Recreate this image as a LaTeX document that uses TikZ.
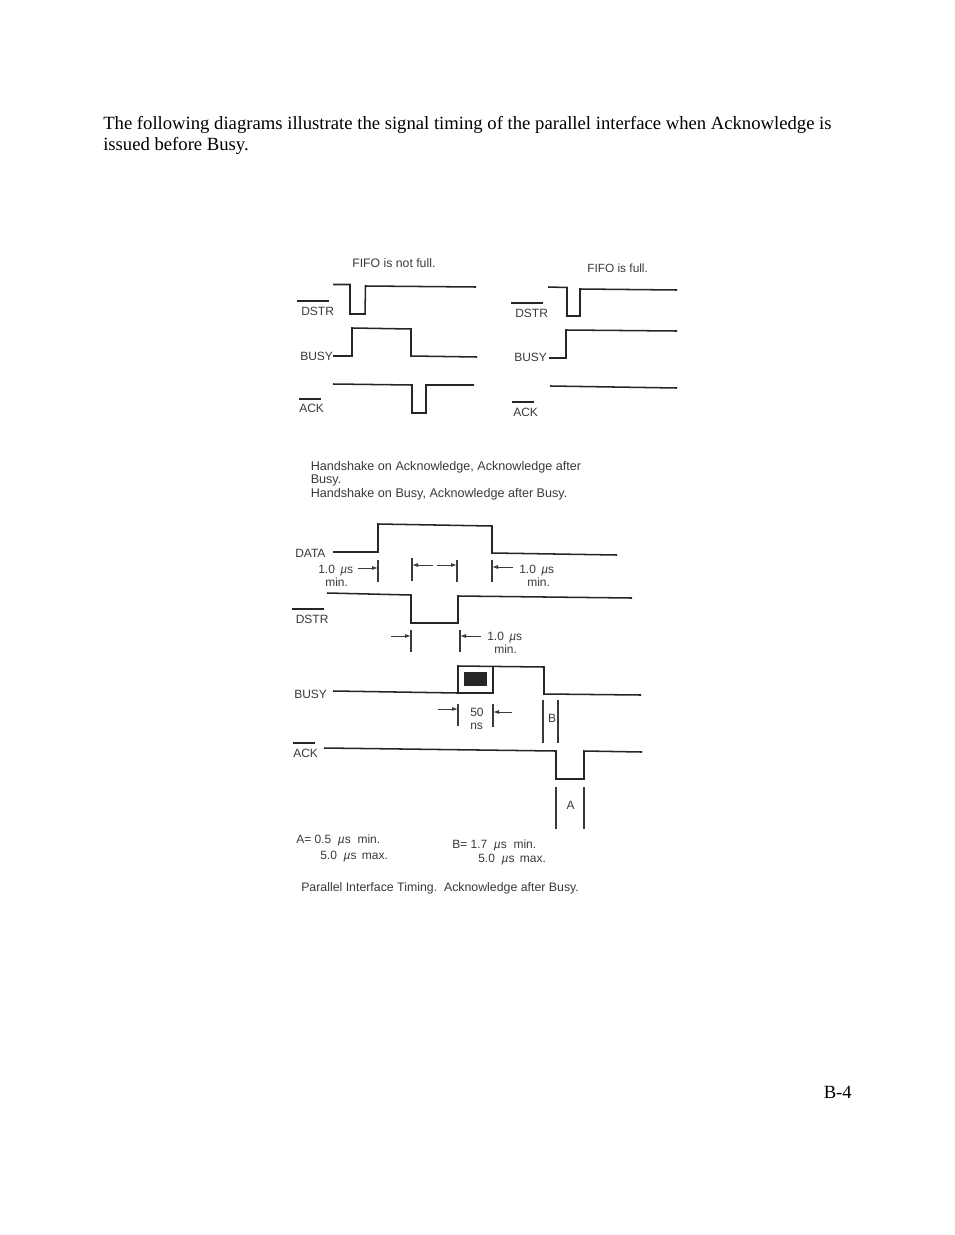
\documentclass[tikz,border=0pt]{standalone}
\usepackage{fontspec}
\setmainfont{Liberation Serif}
\newfontfamily\labelfont{Liberation Sans}
\usetikzlibrary{arrows.meta}
\definecolor{ink}{HTML}{262626}
\definecolor{scan}{HTML}{3A3A3A}
\newcommand{\us}{{\itshape µ}s}
\tikzset{
  wave/.style={draw=ink,line width=1.15pt,line join=miter},
  tick/.style={draw=scan,line width=0.8pt},
  dim/.style={draw=scan,line width=0.7pt,-{Latex[length=4.5pt,width=3pt]}},
  bar/.style={draw=ink,line width=0.8pt},
  sig/.style={text=scan,inner sep=0pt,anchor=west,font=\labelfont\fontsize{9}{10}\selectfont},
  lab/.style={sig,anchor=center},
  wide/.style={sig,font=\labelfont\fontsize{9.45}{10}\selectfont},
  page/.style={text=black,inner sep=0pt,anchor=base west,font=\fontsize{14}{16}\selectfont},
}
\begin{document}
\begin{tikzpicture}[x=0.75pt,y=-0.75pt]
\useasboundingbox[fill=white] (0,0) rectangle (954,1235);
% page text
\node[page] at (103,129) {The following diagrams illustrate the signal timing of the parallel interface when Acknowledge is};
\node[page] at (103,150) {issued before Busy.};
\node[page] at (823.5,1098) {B-4};
% top-left
\node[sig,font=\labelfont\fontsize{9.2}{10}\selectfont] at (352,263) {FIFO is not full.};
\draw[wave] (333,284.5) -- (350,284.5) -- (350,314) -- (365,314) -- (365.5,286) -- (476,287);
\draw[wave] (333,356) -- (352,356) -- (352,328) -- (411,329) -- (411,356) -- (477,357);
\draw[wave] (333,384) -- (412,385) -- (412,413) -- (426,413) -- (426,385) -- (474,385);
\draw[bar] (297,301) -- (329,301);
\draw[bar] (299,399) -- (321,399);
\node[sig] at (301,311.5) {DSTR};
\node[sig] at (300,356.5) {BUSY};
\node[sig] at (299,408.5) {ACK};
% top-right
\node[sig,font=\labelfont\fontsize{8.9}{10}\selectfont] at (587,268) {FIFO is full.};
\draw[wave] (548,287) -- (567,287.5) -- (567,316) -- (580,316) -- (580,289) -- (677,290);
\draw[wave] (549,358) -- (566,358) -- (566,330) -- (677,331);
\draw[wave] (550,386) -- (677,388);
\draw[bar] (511,303) -- (543,303);
\draw[bar] (512,402) -- (534,402);
\node[sig] at (515,313) {DSTR};
\node[sig] at (514,357.5) {BUSY};
\node[sig] at (513,412.5) {ACK};
% handshake text
\node[wide] at (310.5,467) {Handshake on Acknowledge, Acknowledge after};
\node[wide] at (310.5,480) {Busy.};
\node[wide] at (310.5,494.5) {Handshake on Busy, Acknowledge after Busy.};
% DATA
\draw[wave] (333,552) -- (378,552) -- (378,524) -- (492,526) -- (492,553) -- (617,555);
\node[sig] at (295,553.5) {DATA};
\draw[tick] (378,560) -- (378,582);
\draw[tick] (412,558) -- (412,581);
\draw[tick] (457,560) -- (457,582);
\draw[tick] (492,560) -- (492,582);
\draw[dim] (358,568) -- (378,568);
\draw[dim] (433,565) -- (412,565);
\draw[dim] (437,565) -- (457,565);
\draw[dim] (513,567) -- (492,567);
\node[sig] at (318,570.5) {1.0 \,\us};
\node[sig] at (325,582) {min.};
\node[sig] at (519,570.5) {1.0 \,\us};
\node[sig] at (527,582) {min.};
% DSTR
\draw[wave] (327,593) -- (411,595) -- (411,623) -- (458,623) -- (458,596) -- (632,598);
\draw[bar] (292,609) -- (324,609);
\node[sig] at (295.5,619.5) {DSTR};
\draw[tick] (411,630) -- (411,652);
\draw[tick] (460,630) -- (460,652);
\draw[dim] (391,636) -- (411,636);
\draw[dim] (481,636) -- (460,636);
\node[sig] at (487,638) {1.0 \,\us};
\node[sig] at (494,649.5) {min.};
% BUSY
\draw[wave] (333,691) -- (458,693) -- (458,666) -- (544,667) -- (544,694) -- (641,695);
\draw[draw=ink,line width=0.9pt] (458,693) -- (493,693) -- (493,666);
\fill[ink] (464,672) rectangle (487,686);
\node[sig] at (294,694.5) {BUSY};
\draw[tick] (458,704) -- (458,726);
\draw[tick] (493,704) -- (493,727);
\draw[dim] (438,709) -- (458,709);
\draw[dim] (512,712) -- (493,712);
\node[sig] at (470,712) {50};
\node[sig] at (470,726) {ns};
\draw[tick] (543,700) -- (543,743);
\draw[tick] (558,700) -- (558,743);
\node[lab] at (552,718.5) {B};
% ACK
\draw[wave] (324,748) -- (556,751) -- (556,779) -- (584,779) -- (584,751) -- (642,752);
\draw[bar] (293,743) -- (315,743);
\node[sig] at (293,753.5) {ACK};
\draw[tick] (556,787) -- (556,829);
\draw[tick] (584,787) -- (584,829);
\node[lab] at (570.5,805) {A};
% values
\node[sig] at (296,840) {A= 0.5 \ \us\ \ min.};
\node[sig] at (320,857) {5.0 \ \us\ \,max.};
\node[sig] at (452,845) {B= 1.7 \ \us\ \ min.};
\node[sig] at (478,859.5) {5.0 \ \us\ \,max.};
\node[sig,font=\labelfont\fontsize{9.25}{10}\selectfont] at (301,888) {Parallel Interface Timing.\ \ Acknowledge after Busy.};
\end{tikzpicture}
\end{document}
